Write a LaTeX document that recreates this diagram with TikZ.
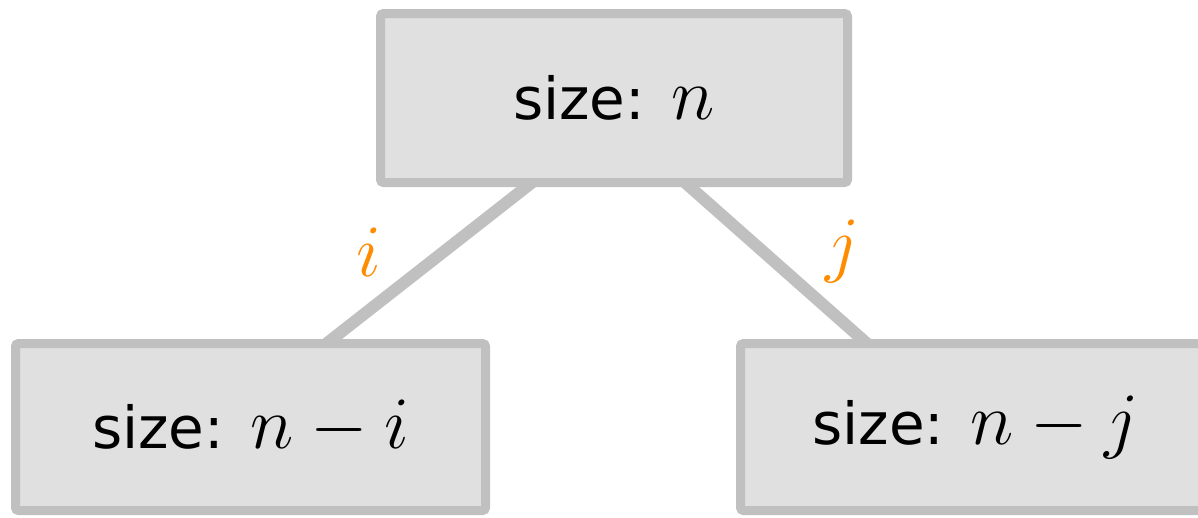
\RequirePackage{fix-cm}
\documentclass[tikz,border=0pt]{standalone}
\usepackage{fontspec}
\setsansfont{DejaVu Sans}
\usetikzlibrary{calc}
\definecolor{boxfill}{HTML}{E0E0E0}
\definecolor{boxdraw}{HTML}{C0C0C0}
\definecolor{lab}{HTML}{FF8C00}
\newcommand{\sizemath}[1]{{\fontsize{74}{76}\selectfont$#1$}}
\newcommand{\sizelabel}[2]{\raisebox{#1}{size:\ \hspace{8pt}\sizemath{#2}}}
\tikzset{
  sizebox/.style={draw=boxdraw, fill=boxfill, line width=9pt, rounded corners=3pt,
    minimum width=467pt, minimum height=169pt, inner sep=0pt, outer sep=0pt,
    font=\sffamily\fontsize{58}{60}\selectfont},
  link/.style={draw=boxdraw, line width=12pt},
  edgelab/.style={text=lab, font=\fontsize{74}{76}\selectfont, inner sep=0pt}
}
\begin{document}
\begin{tikzpicture}[x=1pt,y=-1pt]
\useasboundingbox (0,0) rectangle (1198,517);
\coordinate (t1) at (532,182.5);
\coordinate (l1) at (326.5,343.5);
\coordinate (t2) at (685,182.5);
\coordinate (r1) at (867,343.5);
\draw[link] (t1) -- (l1);
\draw[link] (t2) -- (r1);
\node[sizebox] (top) at (614,98) {\sizelabel{-3pt}{n}};
\node[sizebox, minimum width=470pt, minimum height=167pt] (left) at (250.5,427) {\sizelabel{-5pt}{n-i}};
\node[sizebox, minimum width=470pt, minimum height=167pt] (right) at (975.5,427) {\sizelabel{-1pt}{n-j}};
\node[edgelab] (li) at (369,252) {$i$};
\node[edgelab] (lj) at (843,251) {$j$};
\end{tikzpicture}
\end{document}
